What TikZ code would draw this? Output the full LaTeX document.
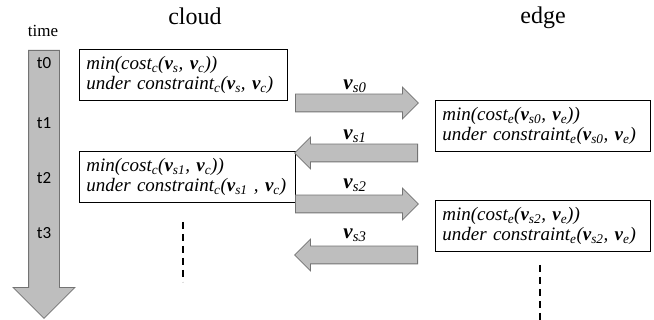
\documentclass[tikz,border=0pt]{standalone}
\usepackage{fontspec}
\setmainfont{Liberation Serif}
\setsansfont{Carlito}
\usetikzlibrary{shapes.arrows,positioning}
\definecolor{arrowfill}{RGB}{190,190,190}
\definecolor{arrowline}{RGB}{115,115,115}
\newcommand{\vb}[1]{\textbf{\textit{v}}\textsubscript{\textit{#1}}}
\tikzset{
  stepbox/.style={draw, line width=0.8pt, anchor=north west, align=left, inner sep=7pt,
    font=\fontsize{19}{20}\selectfont\itshape},
  msgarrow/.style={single arrow, draw=arrowline, fill=arrowfill, line width=0.8pt,
    minimum height=123pt, single arrow head extend=7pt, inner sep=0pt, anchor=tail},
  msglabel/.style={font=\fontsize{21}{21}\selectfont},
  tlabel/.style={font=\sffamily\fontsize{17}{17}\selectfont},
}
\begin{document}
\begin{tikzpicture}[x=1pt, y=-1pt]
    \useasboundingbox (0,0) rectangle (654,320);
    % headers
    \node[font=\fontsize{17}{17}\selectfont] (time) at (43,31) {time};
    \node[font=\fontsize{24}{24}\selectfont] (cloud) at (195,16) {cloud};
    \node[font=\fontsize{24}{24}\selectfont] (edge) at (543,18) {edge};

    % time axis
    \node[single arrow, draw=arrowline, fill=arrowfill, line width=0.8pt, rotate=-90,
          minimum height=268pt, single arrow head extend=15.5pt, inner sep=0pt, anchor=tail]
          (axis) at (44,50) {\rule{0pt}{30pt}};
    \node[tlabel] (t0) at (44,63) {t0};
    \node[tlabel] (t1) at (44,123) {t1};
    \node[tlabel] (t2) at (44,178) {t2};
    \node[tlabel] (t3) at (44,233) {t3};

    % cloud side
    \node[stepbox, text width=194pt, minimum height=50pt] (c0) at (79,49)
        {min(cost\textsubscript{c}(\vb{s}, \vb{c}))\\under constraint\textsubscript{c}(\vb{s}, \vb{c})};
    \node[stepbox, text width=202pt, minimum height=50pt] (c1) at (79,151)
        {min(cost\textsubscript{c}(\vb{s1}, \vb{c}))\\under constraint\textsubscript{c}(\vb{s1} , \vb{c})};

    % edge side
    \node[stepbox, text width=201pt, minimum height=48pt] (e0) at (435,100)
        {min(cost\textsubscript{e}(\vb{s0}, \vb{e}))\\under constraint\textsubscript{e}(\vb{s0}, \vb{e})};
    \node[stepbox, text width=201pt, minimum height=50pt] (e1) at (435,200)
        {min(cost\textsubscript{e}(\vb{s2}, \vb{e}))\\under constraint\textsubscript{e}(\vb{s2}, \vb{e})};

    % messages
    \node[msgarrow] (m0) at (295,103) {\rule{0pt}{17pt}};
    \node[msgarrow, rotate=180] (m1) at (418,153) {\rule{0pt}{17pt}};
    \node[msgarrow] (m2) at (295,204) {\rule{0pt}{17pt}};
    \node[msgarrow, rotate=180] (m3) at (418,255) {\rule{0pt}{17pt}};
    \node[msglabel] (l0) at (355,86) {\vb{s0}};
    \node[msglabel] (l1) at (355,136) {\vb{s1}};
    \node[msglabel] (l2) at (355,185) {\vb{s2}};
    \node[msglabel] (l3) at (355,235) {\vb{s3}};

    % continuation
    \draw[line width=1.3pt, dash pattern=on 7pt off 5pt] (183,222) -- (183,282);
    \draw[line width=1.3pt, dash pattern=on 7pt off 5pt] (540,265) -- (540,320);
\end{tikzpicture}
\end{document}
